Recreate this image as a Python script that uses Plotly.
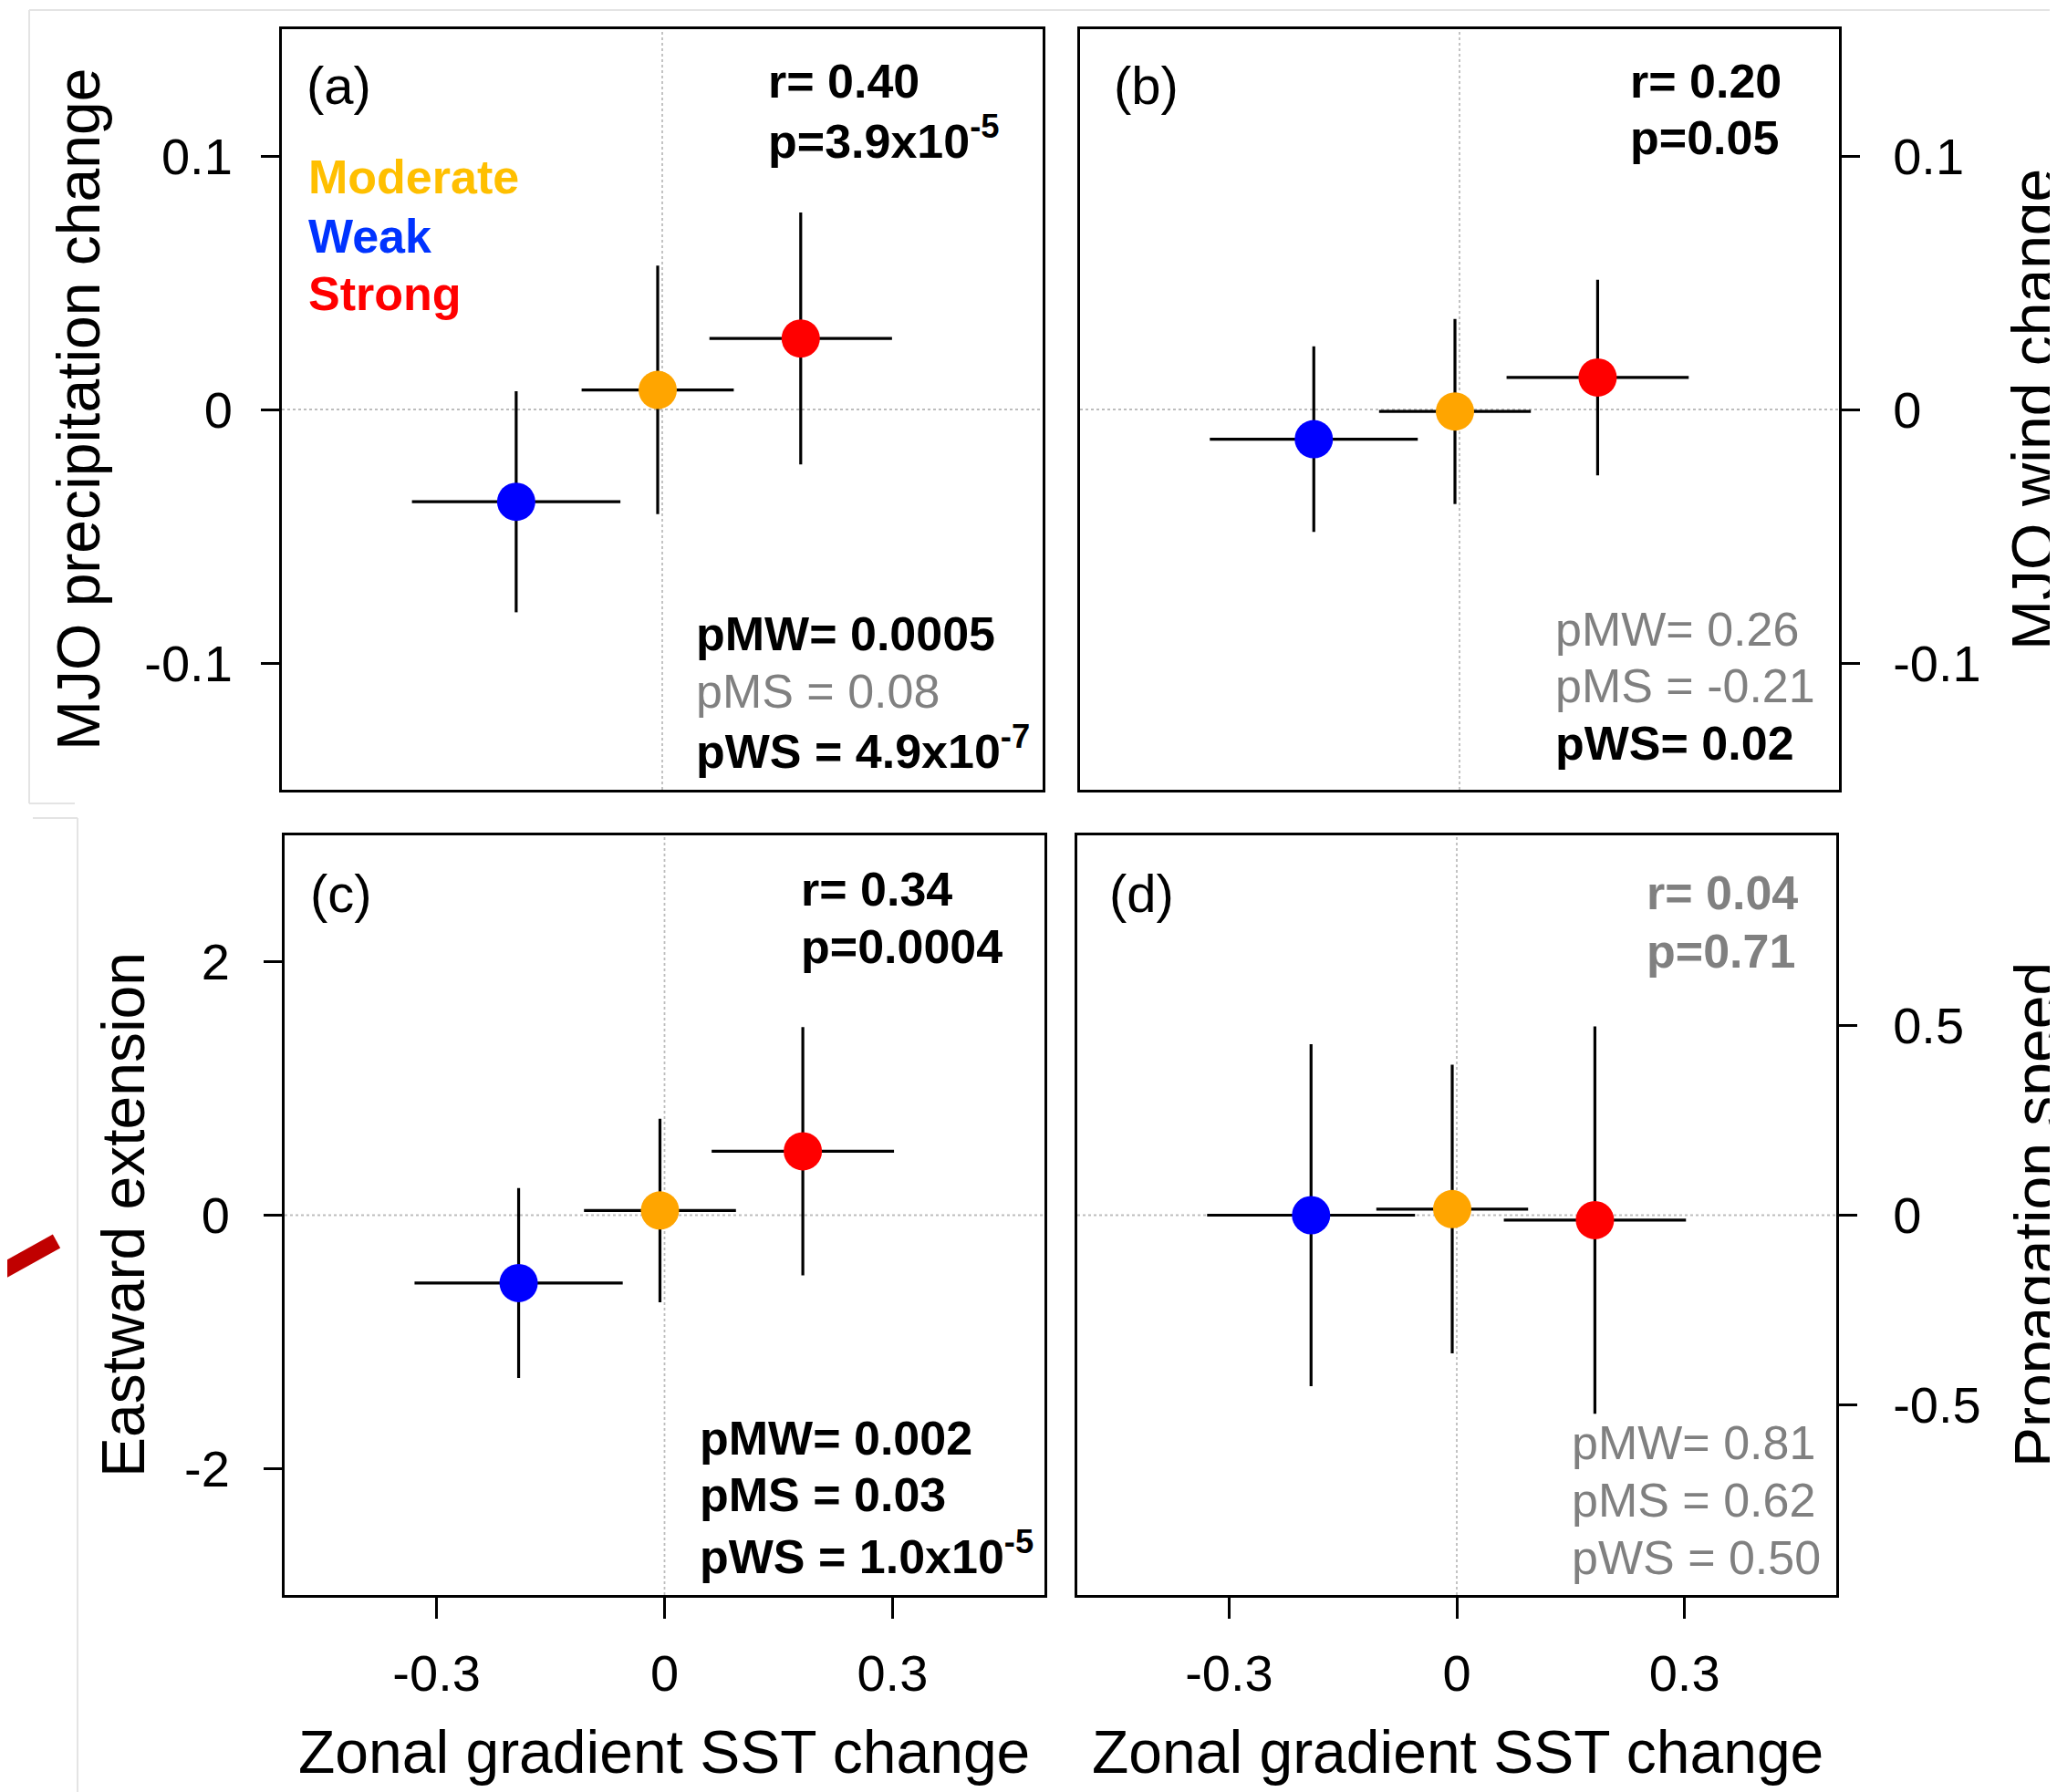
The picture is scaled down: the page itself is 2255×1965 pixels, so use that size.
import plotly.graph_objects as go

# ---------------- data ----------------
categories = ["Weak", "Moderate", "Strong"]
marker_colors = ["#0000FF", "#FFA500", "#FF0000"]

sst_change = [-0.192, -0.006, 0.182]
sst_err = [0.137, 0.100, 0.120]

precip_change = [-0.0364, 0.0077, 0.0280]
precip_err = [0.0436, 0.0490, 0.0497]

wind_change = [-0.0117, -0.0008, 0.0126]
wind_err = [0.0366, 0.0365, 0.0386]

ext_change = [-0.536, 0.037, 0.505]
ext_err = [0.750, 0.725, 0.980]

speed_change = [0.000, 0.016, -0.013]
speed_err = [0.450, 0.380, 0.510]

x_tickvals = [-0.3, 0, 0.3]
x_ticktext = ["-0.3", "0", "0.3"]
prec_tickvals = [-0.1, 0, 0.1]
prec_ticktext = ["-0.1", "0", "0.1"]
wind_tickvals = [-0.1, 0, 0.1]
wind_ticktext = ["-0.1", "0", "0.1"]
ext_tickvals = [-2, 0, 2]
ext_ticktext = ["-2", "0", "2"]
speed_tickvals = [-0.5, 0, 0.5]
speed_ticktext = ["-0.5", "0", "0.5"]

# ---------------- layout helpers ----------------
W, H = 2255, 1965
OFF = 8  # page body margin compensation
FONT = "Liberation Sans, Arial, Helvetica, sans-serif"
GRAY = "#808080"
LW = 3.0


def X(px):
    return (px - OFF) / W


def Y(py):
    return 1 - (py - OFF) / H


fig = go.Figure()

panels = [
    ("x", "y", precip_change, precip_err),
    ("x2", "y2", wind_change, wind_err),
    ("x3", "y3", ext_change, ext_err),
    ("x4", "y4", speed_change, speed_err),
]

for xa, ya, yv, ye in panels:
    for i in range(3):
        fig.add_trace(go.Scatter(
            x=[sst_change[i]], y=[yv[i]],
            xaxis=xa, yaxis=ya,
            mode="markers",
            marker=dict(size=42, color=marker_colors[i], line=dict(width=0)),
            error_x=dict(type="data", array=[sst_err[i]], color="black",
                         thickness=3.2, width=0),
            error_y=dict(type="data", array=[ye[i]], color="black",
                         thickness=3.2, width=0),
            showlegend=False, name=categories[i],
            hoverinfo="skip",
        ))

common_x = dict(range=[-0.5, 0.5], showline=True, mirror=True, linecolor="black",
                linewidth=LW, showgrid=False, zeroline=False,
                tickfont=dict(family=FONT, size=56, color="black"))
common_y = dict(showline=True, mirror=True, linecolor="black", linewidth=LW,
                showgrid=False, zeroline=False, ticks="outside", ticklen=20,
                tickwidth=LW, tickcolor="black",
                tickfont=dict(family=FONT, size=56, color="black"))

dx_a = [X(309), X(1143)]
dx_b = [X(1184), X(2016)]
dx_c = [X(312), X(1145)]
dx_d = [X(1181), X(2013)]
dy_top = [Y(866), Y(32)]
dy_bot = [Y(1749), Y(916)]

fig.update_layout(
    width=W, height=H,
    margin=dict(l=0, r=0, t=0, b=0),
    paper_bgcolor="white", plot_bgcolor="white",
    xaxis=dict(domain=dx_a, anchor="y", ticks="", showticklabels=False, **common_x),
    xaxis2=dict(domain=dx_b, anchor="y2", ticks="", showticklabels=False, **common_x),
    xaxis3=dict(domain=dx_c, anchor="y3", ticks="outside", ticklen=23, tickwidth=LW,
                tickcolor="black", tickvals=x_tickvals, ticktext=x_ticktext,
                ticklabelstandoff=12, **common_x),
    xaxis4=dict(domain=dx_d, anchor="y4", ticks="outside", ticklen=23, tickwidth=LW,
                tickcolor="black", tickvals=x_tickvals, ticktext=x_ticktext,
                ticklabelstandoff=12, **common_x),
    yaxis=dict(domain=dy_top, anchor="x", range=[-0.15, 0.15], side="left",
               tickvals=prec_tickvals, ticktext=prec_ticktext,
               ticklabelstandoff=20, **common_y),
    yaxis2=dict(domain=dy_top, anchor="x2", range=[-0.15, 0.15], side="right",
                tickvals=wind_tickvals, ticktext=wind_ticktext,
                ticklabelstandoff=25, **common_y),
    yaxis3=dict(domain=dy_bot, anchor="x3", range=[-3, 3], side="left",
                tickvals=ext_tickvals, ticktext=ext_ticktext,
                ticklabelstandoff=26, **common_y),
    yaxis4=dict(domain=dy_bot, anchor="x4", range=[-1, 1], side="right",
                tickvals=speed_tickvals, ticktext=speed_ticktext,
                ticklabelstandoff=28, **common_y),
)

# dotted zero lines
for xa, ya in [("x", "y"), ("x2", "y2"), ("x3", "y3"), ("x4", "y4")]:
    fig.add_shape(type="line", xref=xa, yref=f"{ya} domain", x0=0, x1=0, y0=0, y1=1,
                  line=dict(color="#bdbdbd", width=1.8, dash="dot"), layer="below")
    fig.add_shape(type="line", xref=f"{xa} domain", yref=ya, x0=0, x1=1, y0=0, y1=0,
                  line=dict(color="#bdbdbd", width=1.8, dash="dot"), layer="below")

# page artefacts (light frame lines and red slash)
frame = "#e4e4e4"
for x0, y0, x1, y1 in [(32, 11, W + OFF, 11), (32, 11, 32, 881), (32, 881, 82, 881),
                       (36, 897, 85, 897), (85, 897, 85, H + OFF)]:
    fig.add_shape(type="line", xref="paper", yref="paper", x0=X(x0), y0=Y(y0),
                  x1=X(x1), y1=Y(y1), line=dict(color=frame, width=2), layer="below")
fig.add_shape(type="line", xref="paper", yref="paper", x0=X(-30), y0=Y(1412),
              x1=X(62), y1=Y(1361), line=dict(color="#C00000", width=17))


def ann(text, x, y, size=52, color="black", xanchor="left", angle=0):
    fig.add_annotation(text=text, x=X(x), y=Y(y), xref="paper", yref="paper",
                       xanchor=xanchor, yanchor="middle", showarrow=False,
                       textangle=angle,
                       font=dict(family=FONT, size=size, color=color))


# panel letters
ann("(a)", 334, 93, size=58)
ann("(b)", 1219, 93, size=58)
ann("(c)", 338, 979, size=58)
ann("(d)", 1214, 979, size=58)

# legend text
ann("<b>Moderate</b>", 336, 194, color="#FFBF00")
ann("<b>Weak</b>", 336, 259, color="#0033FF")
ann("<b>Strong</b>", 336, 322, color="#FF0000")

# panel (a)
ann("<b>r= 0.40</b>", 840, 89)
ann("<b>p=3.9x10<sup>-5</sup></b>", 840, 151)
ann("<b>pMW= 0.0005</b>", 761, 695)
ann("pMS = 0.08", 761, 758, color=GRAY)
ann("<b>pWS = 4.9x10<sup>-7</sup></b>", 761, 820)

# panel (b)
ann("<b>r= 0.20</b>", 1785, 89)
ann("<b>p=0.05</b>", 1785, 151)
ann("pMW= 0.26", 1703, 690, color=GRAY)
ann("pMS = -0.21", 1703, 752, color=GRAY)
ann("<b>pWS= 0.02</b>", 1703, 815)

# panel (c)
ann("<b>r= 0.34</b>", 876, 975)
ann("<b>p=0.0004</b>", 876, 1038)
ann("<b>pMW= 0.002</b>", 765, 1577)
ann("<b>pMS = 0.03</b>", 765, 1639)
ann("<b>pWS = 1.0x10<sup>-5</sup></b>", 765, 1703)

# panel (d)
ann("<b>r= 0.04</b>", 1803, 979, color=GRAY)
ann("<b>p=0.71</b>", 1803, 1043, color=GRAY)
ann("pMW= 0.81", 1721, 1582, color=GRAY)
ann("pMS = 0.62", 1721, 1645, color=GRAY)
ann("pWS = 0.50", 1721, 1708, color=GRAY)

# axis titles
ann("MJO precipitation change", 86, 449, size=66, xanchor="center", angle=-90)
ann("Eastward extension", 135, 1332, size=66, xanchor="center", angle=-90)
ann("MJO wind change", 2229, 449, size=66, xanchor="center", angle=-90)
ann("Propagation speed", 2232, 1332, size=66, xanchor="center", angle=-90)
ann("Zonal gradient SST change", 728, 1921, size=66, xanchor="center")
ann("Zonal gradient SST change", 1598, 1921, size=66, xanchor="center")

fig.write_html("out.html")
